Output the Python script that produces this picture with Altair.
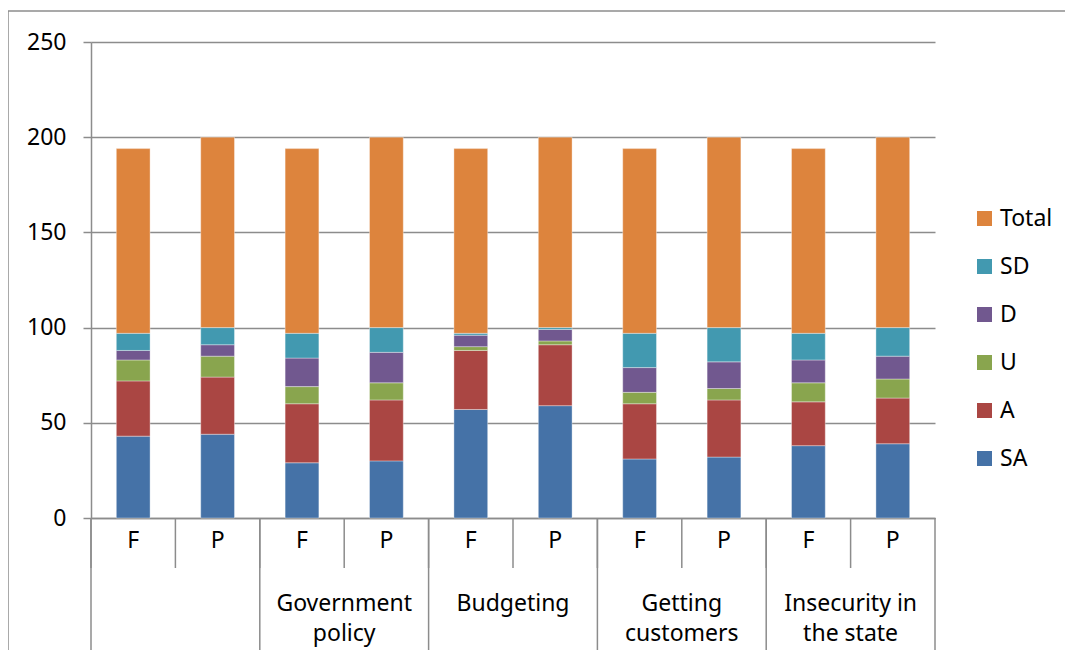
import altair as alt
import pandas as pd

groups = ["", "Government\npolicy", "Budgeting", "Getting\ncustomers", "Insecurity in\nthe state"]
subs = ["F", "P"]
series = ["Total", "SD", "D", "U", "A", "SA"]
colors = ["#DD843D", "#4299B0", "#71588F", "#89A54E", "#AA4643", "#4572A7"]

SA = [43, 44, 29, 30, 57, 59, 31, 32, 38, 39]
A = [29, 30, 31, 32, 31, 32, 29, 30, 23, 24]
U = [11, 11, 9, 9, 2, 2, 6, 6, 10, 10]
D = [5, 6, 15, 16, 6, 6, 13, 14, 12, 12]
SD = [9, 9, 13, 13, 1, 1, 18, 18, 14, 15]
Total = [97, 100, 97, 100, 97, 100, 97, 100, 97, 100]

vals = {"SA": SA, "A": A, "U": U, "D": D, "SD": SD, "Total": Total}
stack_order = ["SA", "A", "U", "D", "SD", "Total"]

cats = []
for gi, g in enumerate(groups):
    for s in subs:
        cats.append(f"{gi}{s}")

rows = []
for i, c in enumerate(cats):
    for k, s in enumerate(stack_order):
        rows.append({"cat": c, "series": s, "value": vals[s][i], "ord": k})
df = pd.DataFrame(rows)

lab_df = pd.DataFrame({"cat": cats, "lab": [c[-1] for c in cats]})
grp_df = pd.DataFrame({"cat": [f"{gi}F" for gi in range(len(groups))], "glab": groups})
sep_df = pd.DataFrame({"cat": [f"{gi}F" for gi in range(len(groups))]})
end_df = pd.DataFrame({"cat": [cats[-1]]})

H = 476
W = 844
FONT = "Noto Sans"
FS = 23
GREY = "#8c8c8c"

xscale = alt.Scale(domain=cats, paddingInner=0, paddingOuter=0)

bars = alt.Chart(df).mark_bar(width={"band": 0.4}, stroke="#ffffff", strokeWidth=0.6, strokeOpacity=0.6).encode(
    x=alt.X("cat:N", scale=xscale, sort=cats,
            axis=alt.Axis(labels=False, ticks=False, title=None, domain=True,
                          domainColor=GREY, domainWidth=1.5, grid=False)),
    y=alt.Y("value:Q", stack="zero",
            scale=alt.Scale(domain=[0, 250]),
            axis=alt.Axis(values=[0, 50, 100, 150, 200, 250], title=None,
                          grid=True, gridColor=GREY, gridWidth=1.5,
                          domainColor=GREY, domainWidth=1.5,
                          tickColor=GREY, tickSize=8, tickWidth=1.5,
                          labelFont=FONT, labelFontSize=FS, labelColor="#000000",
                          labelPadding=17)),
    color=alt.Color("series:N", scale=alt.Scale(domain=series, range=colors),
                    legend=alt.Legend(title=None, orient="none", legendX=882, legendY=165,
                                      symbolType="square", symbolSize=225, symbolStrokeWidth=0,
                                      labelFont=FONT, labelFontSize=FS, labelColor="#000000",
                                      rowPadding=24, labelOffset=4)),
    order=alt.Order("ord:Q", sort="ascending"),
)

sub_text = alt.Chart(lab_df).mark_text(font=FONT, fontSize=FS, color="#000000", baseline="middle").encode(
    x=alt.X("cat:N", scale=xscale, sort=cats),
    y=alt.value(H + 23),
    text="lab:N",
)

grp_text = alt.Chart(grp_df).mark_text(font=FONT, fontSize=FS, color="#000000", baseline="top",
                                       lineBreak="\n", lineHeight=30).encode(
    x=alt.X("cat:N", scale=xscale, sort=cats, bandPosition=1),
    y=alt.value(H + 75),
    text="glab:N",
)

short_ticks = alt.Chart(lab_df).mark_rule(color=GREY, strokeWidth=1.5).encode(
    x=alt.X("cat:N", scale=xscale, sort=cats, bandPosition=0),
    y=alt.value(H),
    y2=alt.value(H + 50),
)

long_sep = alt.Chart(sep_df).mark_rule(color=GREY, strokeWidth=1.5).encode(
    x=alt.X("cat:N", scale=xscale, sort=cats, bandPosition=0),
    y=alt.value(H),
    y2=alt.value(H + 140),
)

end_sep = alt.Chart(end_df).mark_rule(color=GREY, strokeWidth=1.5).encode(
    x=alt.X("cat:N", scale=xscale, sort=cats, bandPosition=1),
    y=alt.value(H),
    y2=alt.value(H + 140),
)

# outer chart-area border (top and left edges)
border_top = alt.Chart(end_df).mark_rule(color=GREY, strokeWidth=1.5).encode(
    x=alt.value(-83), x2=alt.value(W + 200), y=alt.value(-31),
)
border_left = alt.Chart(end_df).mark_rule(color=GREY, strokeWidth=1.5).encode(
    x=alt.value(-83), y=alt.value(-31), y2=alt.value(H + 200),
)

chart = alt.layer(bars, short_ticks, long_sep, end_sep, border_top, border_left, sub_text, grp_text).properties(
    width=W, height=H,
    background="#ffffff",
    autosize=alt.AutoSizeParams(type="none"),
    padding={"left": 83, "top": 34, "right": 130, "bottom": 132},
).configure_view(stroke=None)

chart.save("out.html", embed_options={"renderer": "svg", "actions": False})
